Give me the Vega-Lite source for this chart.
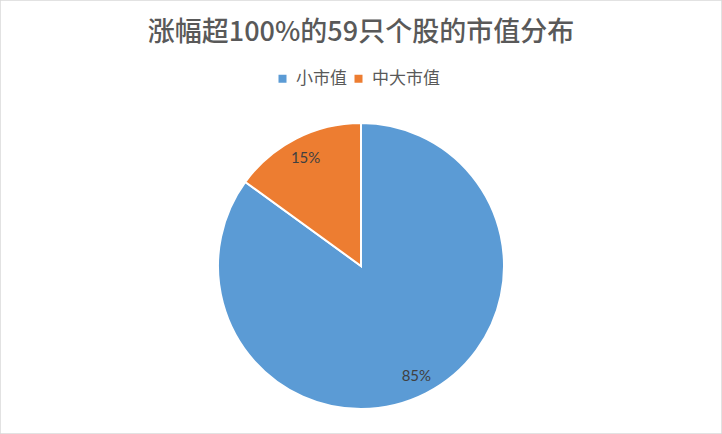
{
  "$schema": "https://vega.github.io/schema/vega-lite/v6.json",
  "width": 722,
  "height": 434,
  "autosize": {"type": "fit", "contains": "padding"},
  "padding": 0,
  "background": "white",
  "view": {"stroke": "#d9d9d9", "strokeWidth": 1.5},
  "title": {
    "text": "涨幅超100%的59只个股的市值分布",
    "font": "Noto Sans CJK SC",
    "fontSize": 27,
    "fontWeight": 500,
    "color": "#595959",
    "anchor": "middle",
    "offset": -47
  },
  "config": {
    "view": {"stroke": "#d9d9d9", "strokeWidth": 1.5}
  },
  "data": {
    "values": [
      {"cat": "小市值", "share": 0.85, "ord": 1},
      {"cat": "中大市值", "share": 0.15, "ord": 2}
    ]
  },
  "encoding": {
    "theta": {"field": "share", "type": "quantitative", "stack": true},
    "order": {"field": "ord", "type": "quantitative"}
  },
  "layer": [
    {
      "mark": {"type": "arc", "outerRadius": 143, "stroke": "white", "strokeWidth": 2, "yOffset": 49},
      "encoding": {
        "color": {
          "field": "cat",
          "type": "nominal",
          "scale": {"domain": ["小市值", "中大市值"], "range": ["#5b9bd5", "#ed7d31"]},
          "legend": {
            "title": null,
            "orient": "none",
            "direction": "horizontal",
            "legendX": 274,
            "legendY": 70,
            "padding": 0,
            "symbolType": "square",
            "symbolSize": 64,
            "symbolStrokeWidth": 0,
            "labelFont": "Noto Sans CJK SC",
            "labelFontSize": 17,
            "labelColor": "#595959",
            "labelOffset": 5,
            "columnPadding": 3
          }
        }
      }
    },
    {
      "mark": {"type": "text", "radius": 122, "yOffset": 50, "font": "Lato", "fontSize": 15, "color": "#404040"},
      "encoding": {
        "text": {"field": "share", "type": "quantitative", "format": ".0%"}
      }
    }
  ]
}
